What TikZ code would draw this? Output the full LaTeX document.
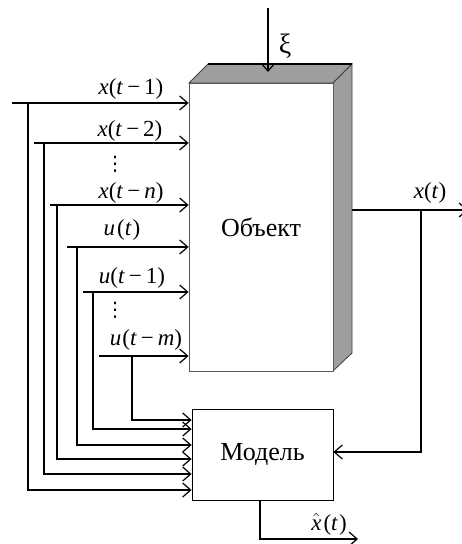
\documentclass[tikz,border=0pt]{standalone}
\usepackage{fontspec}
\setmainfont{Liberation Serif}
\newfontfamily\dvfont{DejaVu Sans}
\usetikzlibrary{arrows.meta,calc}
\definecolor{faceg}{gray}{0.62}
\newcommand{\mn}{\kern4pt−\kern4pt}
\begin{document}
\begin{tikzpicture}[x=1pt,y=-1pt,line width=1.3pt,
  arr/.style={-{Straight Barb[length=8pt,width=14pt,line width=1.2pt]}},
  lbl/.style={font=\fontsize{23}{25}\selectfont, inner sep=0pt},
  dts/.style={font=\dvfont\fontsize{20}{22}\selectfont, inner sep=0pt},
  box/.style={draw, line width=0.8pt, font=\fontsize{26}{28}\selectfont, inner sep=0pt}]
\useasboundingbox (0,0) rectangle (462,544);
\clip (0,0) rectangle (462,544);
% 3D faces of the object
\draw[fill=faceg, draw=black!75, line width=0.8pt] (189,83) -- (208,64) -- (352,64) -- (333,83) -- cycle;
\draw[fill=faceg, draw=black!75, line width=0.8pt] (333,83) -- (352,64) -- (352,353) -- (333,371) -- cycle;
\draw[black, line width=1.2pt] (208,64) -- (352,64);
\node[box, draw=black!65, fill=white, minimum width=144pt, minimum height=288pt] (obj) at (261,227) {Объект};
\node[box, minimum width=141pt, minimum height=91pt] (mod) at (262.5,454.5) {Модель};
% inputs
\foreach \i/\sx/\y/\bx/\my in {1/12/103/28/490, 2/34/143/44/474, 3/50/205/57/459, 4/67/247/77/445, 5/83/292/93/429, 6/99/356/132/420}{
  \coordinate (s\i) at (\sx,\y);
  \coordinate (b\i) at (\bx,\y);
  \coordinate (m\i) at (192,\my);
  \draw[arr] (s\i) -- (s\i -| obj.west);
  \draw[arr] (b\i) |- (m\i -| mod.west);
}
% labels of inputs
\node[lbl] (l1) at (131,89) {\textit{x}(\textit{t}\mn1)};
\node[lbl] (l2) at (130,131) {\textit{x}(\textit{t}\mn2)};
\node[dts] (d1) at (115,164) {⋮};
\node[lbl] (l3) at (131,193) {\textit{x}(\textit{t}\mn\textit{n})};
\node[lbl] (l4) at (122,230) {\textit{u}\kern2pt(\textit{t}\kern1pt)};
\node[lbl] (l5) at (132,278) {\textit{u}(\textit{t}\mn1)};
\node[dts] (d2) at (115,310) {⋮};
\node[lbl] (l6) at (146,340) {\textit{u}\kern1pt(\textit{t}\mn\textit{m})};
% disturbance
\coordinate (xi0) at (268,8);
\coordinate (xi1) at (268,72);
\draw[arr] (xi0) -- (xi1);
\node[lbl, font=\fontsize{28}{30}\selectfont] (xil) at (285,46) {ξ};
% output
\coordinate (o1) at (352,210);
\coordinate (oend) at (468,210);
\coordinate (ob) at (421,210);
\draw[arr] (o1) -- (oend);
\draw[arr] (ob) |- ($(mod.east)+(0,-2.5)$);
\node[lbl] (xt) at (430,193) {\textit{x}(\textit{t})};
% model output
\coordinate (mo) at ($(mod.south)+(-2.5,0)$);
\coordinate (moend) at (358,539);
\draw[arr] (mo) |- (moend);
\node[lbl] (xh) at (329,524) {$\hat{\textit{x}}$\kern2pt(\textit{t}\kern1pt)};
\end{tikzpicture}
\end{document}
